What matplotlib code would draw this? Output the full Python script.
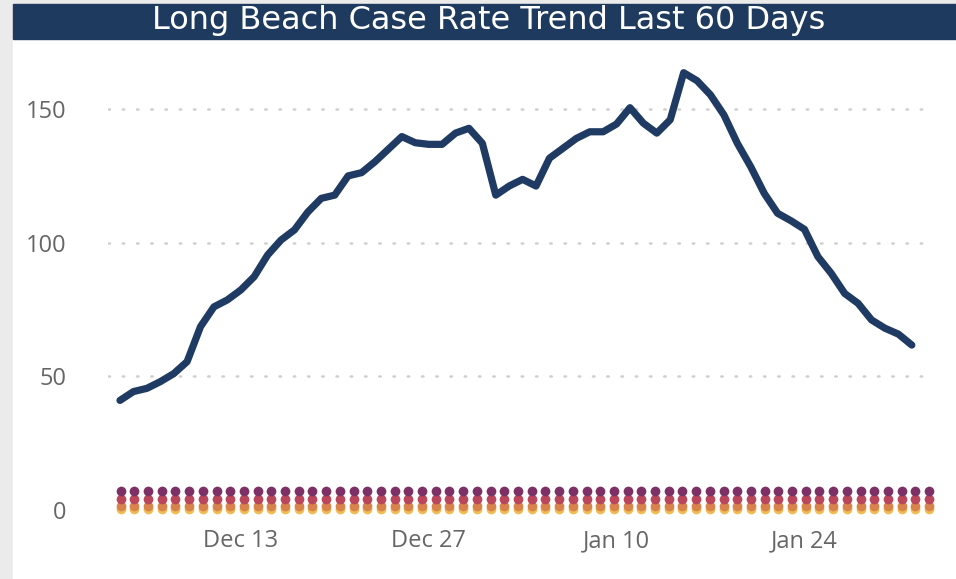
import matplotlib
matplotlib.use("Agg")
import matplotlib.pyplot as plt
import matplotlib.dates as mdates
import numpy as np
import pandas as pd
from matplotlib.patches import Rectangle

# ---- data ----
start_date = "2020-12-04"
case_rate = [41, 44.3, 45.5, 48, 51, 55.5, 68.6, 76, 78.6, 82.3,
             87.3, 95.4, 101, 104.8, 111.5, 116.6, 117.8, 125, 126.2, 130.3,
             135, 139.7, 137.4, 136.8, 136.8, 141, 142.8, 137.2, 117.8, 121.2,
             123.7, 121.2, 131.6, 135.3, 139, 141.5, 141.5, 144.4, 150.5, 144.7,
             141, 146, 163.6, 160.6, 155.3, 147.8, 137.2, 128.4, 118.5, 111,
             108.2, 105, 94.8, 88.5, 81, 77.3, 71.1, 68, 65.8, 61.7]
dates = pd.date_range(start_date, periods=len(case_rate))

n_dots = 60
tier_values = [0.3, 1.5, 4.1, 7.2]          # yellow, orange, red, purple
tier_colors = ["#efbd52", "#d9834c", "#b9465b", "#7c3065"]

y_ticks = [0, 50, 100, 150]
x_tick_dates = ["2020-12-13", "2020-12-27", "2021-01-10", "2021-01-24"]
x_tick_labels = ["Dec 13", "Dec 27", "Jan 10", "Jan 24"]
title = "Long Beach Case Rate Trend Last 60 Days"

# ---- figure ----
W, H = 956, 579
fig = plt.figure(figsize=(W / 100, H / 100), dpi=100)
fig.patch.set_facecolor("#ebebeb")

# white panel and title bar
fig.patches.append(Rectangle((13 / W, 0), 1 - 13 / W, 1 - 39 / H,
                             transform=fig.transFigure, color="white", zorder=-10))
fig.patches.append(Rectangle((13 / W, 1 - 39 / H), 1 - 13 / W, 35 / H,
                             transform=fig.transFigure, color="#1f3a5f", zorder=-10))
fig.text(489 / W, 1 - 21 / H, title, color="white", ha="center", va="center",
         fontsize=23, family="DejaVu Sans")

# axes placement in pixels
ax_l, ax_r = 108, 932
ax_b, ax_t = 518.0, 55.6
ax = fig.add_axes([ax_l / W, 1 - ax_b / H, (ax_r - ax_l) / W, (ax_b - ax_t) / H])
ax.set_facecolor("none")

ax.plot(dates, case_rate, color="#1f3a63", lw=5.2, solid_joinstyle="round",
        solid_capstyle="round", zorder=5)

px_per_day = 13.42
d0 = mdates.date2num(dates[0])
ax.set_xlim(d0 - (120 - ax_l) / px_per_day, d0 + 59 + (ax_r - 911.8) / px_per_day)
ax.set_ylim(-3, 170)

ax.set_yticks(y_ticks)
ax.set_xticks([mdates.date2num(pd.Timestamp(d)) for d in x_tick_dates])
ax.set_xticklabels(x_tick_labels)
ax.tick_params(axis="both", length=0, labelcolor="#666666", labelsize=17)
ax.tick_params(axis="y", pad=30)
ax.tick_params(axis="x", pad=8)
for lab in ax.get_xticklabels() + ax.get_yticklabels():
    lab.set_family(["Open Sans", "DejaVu Sans"])
for s in ax.spines.values():
    s.set_visible(False)
ax.grid(axis="y", color="#cfcfcf", lw=1.8, linestyle=(0, (0.6, 5.1)),
        dash_capstyle="round")
ax.grid(axis="x", visible=False)
ax.yaxis.get_gridlines()[0].set_visible(False)
ax.set_axisbelow(True)

# dots on a twin index axis
ax2 = ax.twiny()
ax2.set_facecolor("none")
dot_px = (929 - 95) / (n_dots - 1)
ax2.set_xlim(-(ax_l - 95) / dot_px, (ax_r - 95) / dot_px)
idx = np.arange(n_dots)
for v, c in zip(tier_values, tier_colors):
    ax2.plot(idx, [v] * n_dots, linestyle="none", marker="o", ms=7,
             mfc=c, mec="none", clip_on=False, zorder=3)
ax2.set_xticks([])
for s in ax2.spines.values():
    s.set_visible(False)

fig.savefig("out.png", dpi=100, facecolor=fig.get_facecolor())
